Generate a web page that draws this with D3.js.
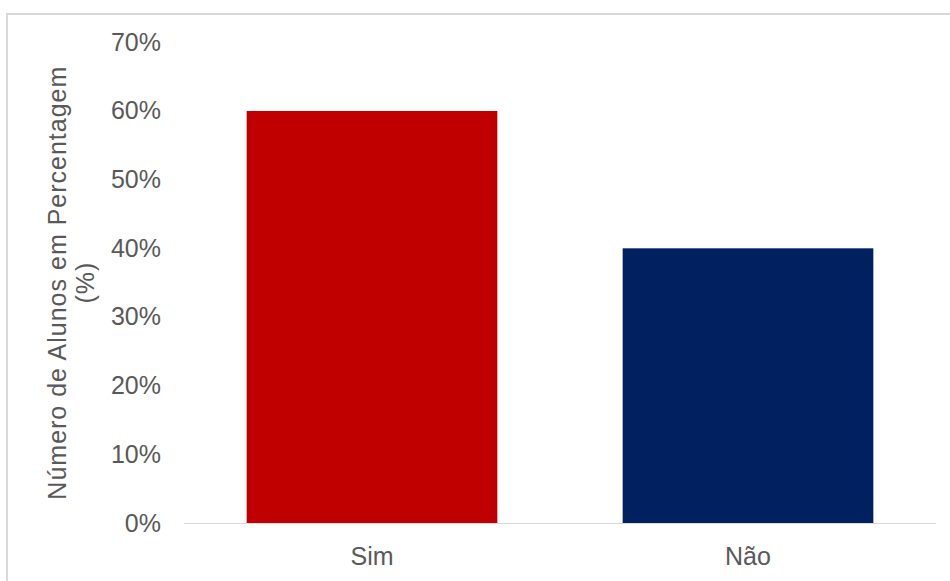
<!DOCTYPE html>
<html>
<head>
<meta charset="utf-8">
<script src="https://cdn.jsdelivr.net/npm/d3@7"></script>
<style>
  html, body { margin: 0; padding: 0; background: #fff; }
  svg { display: block; }
  text { font-family: "Liberation Sans", Arial, sans-serif; fill: #595959; }
</style>
</head>
<body>
<svg id="chart" width="950" height="581"></svg>
<script>
const categories = ["Sim", "Não"];
const values = [60, 40];
const colors = ["#C00000", "#002060"];
const yTicks = [0, 10, 20, 30, 40, 50, 60, 70];
const yTitleLines = ["Número de Alunos em Percentagem", "(%)"];

const svg = d3.select("#chart");

// outer border
svg.append("rect")
  .attr("x", 7).attr("y", 14).attr("width", 980).attr("height", 620)
  .attr("fill", "#fff").attr("stroke", "#d9d9d9").attr("stroke-width", 2);

const plot = { left: 184, right: 936, top: 42.3, bottom: 523 };

const x = d3.scaleBand()
  .domain(categories)
  .range([plot.left, plot.right])
  .paddingInner(1/3)
  .paddingOuter(1/6);

const y = d3.scaleLinear()
  .domain([0, 70])
  .range([plot.bottom, plot.top]);

// bars
svg.append("g").selectAll("rect")
  .data(categories)
  .join("rect")
  .attr("x", d => x(d))
  .attr("width", x.bandwidth())
  .attr("y", (d, i) => y(values[i]))
  .attr("height", (d, i) => y(0) - y(values[i]))
  .attr("fill", (d, i) => colors[i]);

// baseline
svg.append("line")
  .attr("x1", plot.left).attr("x2", plot.right)
  .attr("y1", y(0) + 0.5).attr("y2", y(0) + 0.5)
  .attr("stroke", "#d9d9d9").attr("stroke-width", 1);

// y axis labels
const yAxis = d3.axisLeft(y).tickValues(yTicks).tickFormat(d => d + "%").tickSize(0).tickPadding(0);
const gy = svg.append("g").attr("transform", "translate(161,0)").call(yAxis);
gy.select(".domain").remove();
gy.selectAll("text")
  .attr("font-size", 25)
  .attr("font-family", "Liberation Sans, Arial, sans-serif")
  .style("fill", "#595959");

// x axis labels
const xAxis = d3.axisBottom(x).tickSize(0).tickPadding(0);
const gx = svg.append("g").attr("transform", `translate(0,${y(0)})`).call(xAxis);
gx.select(".domain").remove();
gx.selectAll("text")
  .attr("font-size", 25)
  .attr("font-family", "Liberation Sans, Arial, sans-serif")
  .attr("dy", null)
  .attr("y", 42)
  .style("fill", "#595959");

// y title
const cy = (plot.top + plot.bottom) / 2;
const title = svg.append("text")
  .attr("transform", `translate(66,${cy}) rotate(-90)`)
  .attr("text-anchor", "middle")
  .attr("font-size", 25)
  .attr("letter-spacing", 1);
yTitleLines.forEach((t, i) => {
  title.append("tspan")
    .attr("x", 0)
    .attr("dy", i === 0 ? 0 : 28)
    .text(t);
});
</script>
</body>
</html>
